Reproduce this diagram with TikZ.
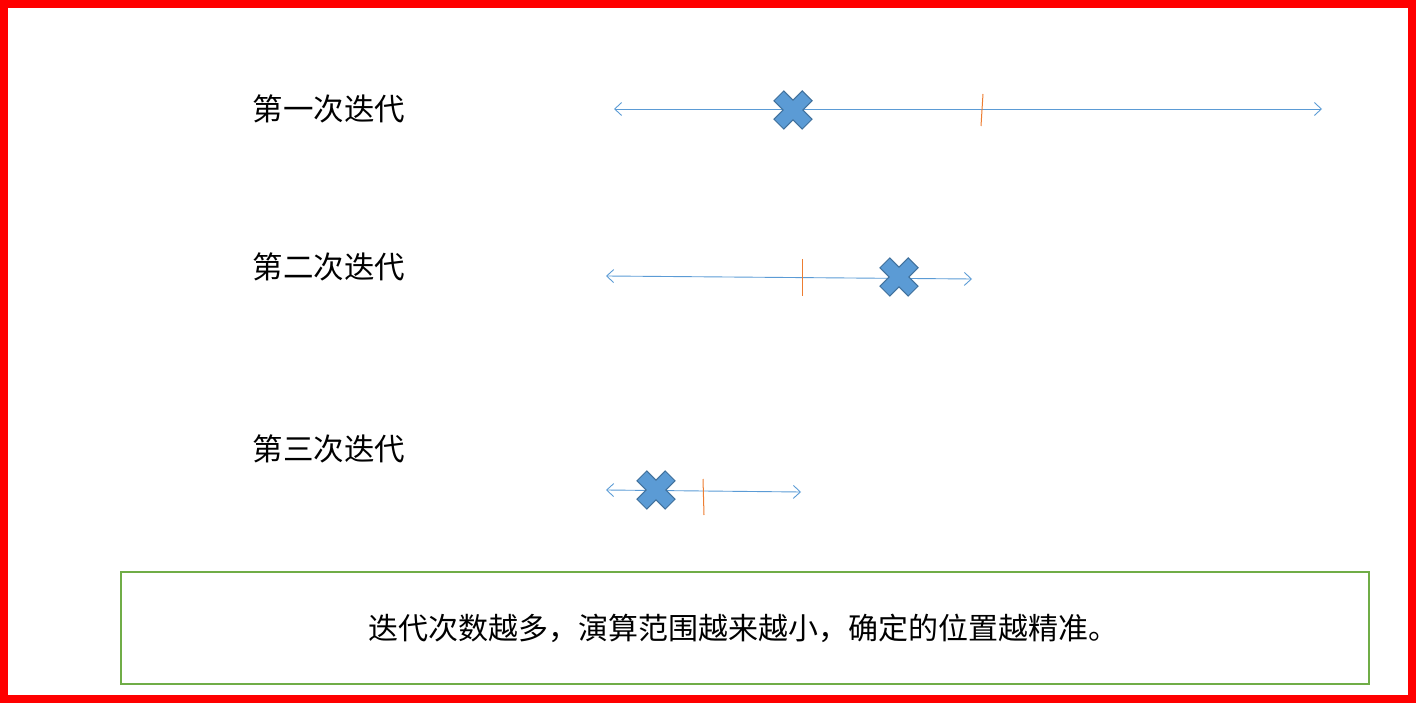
\documentclass[tikz,border=0pt]{standalone}
\usepackage{fontspec}
\newfontfamily\cjk{Noto Sans CJK SC}
\usetikzlibrary{arrows.meta}
\definecolor{lineblue}{HTML}{5B9BD5}
\definecolor{crossedge}{HTML}{41719C}
\definecolor{tickorange}{HTML}{ED7D31}
\definecolor{boxgreen}{HTML}{70AD47}
\tikzset{
  axisline/.style={draw=lineblue, line width=0.9pt, {Straight Barb[length=7pt,width=13pt]}-{Straight Barb[length=7pt,width=13pt]}},
  ticklin/.style={draw=tickorange, line width=1pt},
  lbl/.style={font=\cjk\fontsize{30.5}{33}\selectfont, inner sep=0pt},
  pics/xmark/.style={code={
    \fill[lineblue, draw=crossedge, line width=1pt, rotate=45]
      (7,20) -- (7,7) -- (20,7) -- (20,-7) -- (7,-7) -- (7,-20) -- (-7,-20) -- (-7,-7)
      -- (-20,-7) -- (-20,7) -- (-7,7) -- (-7,20) -- cycle;
  }}
}
\begin{document}
\begin{tikzpicture}[x=1pt,y=-1pt]
\useasboundingbox (0,0) rectangle (1417,703);
\draw[red, line width=8pt] (4,4) rectangle (1411.5,699);

% labels
\node[lbl] (l1) at (329,109) {第一次迭代};
\node[lbl] (l2) at (329,267) {第二次迭代};
\node[lbl] (l3) at (329,449) {第三次迭代};

% line 1
\coordinate (a1) at (614,109);
\coordinate (b1) at (1322,109);
\draw[axisline] (a1) -- (b1);
\coordinate (t1a) at (983,94);
\coordinate (t1b) at (981,126);
\draw[ticklin] (t1a) -- (t1b);
\pic at (793,110) {xmark};

% line 2
\coordinate (a2) at (606,276);
\coordinate (b2) at (972,279);
\draw[axisline] (a2) -- (b2);
\coordinate (t2a) at (802,259);
\coordinate (t2b) at (802,296);
\draw[ticklin] (t2a) -- (t2b);
\pic at (899,277) {xmark};

% line 3
\coordinate (a3) at (606,490);
\coordinate (b3) at (801,492);
\draw[axisline] (a3) -- (b3);
\coordinate (t3a) at (703,479);
\coordinate (t3b) at (704,515);
\draw[ticklin] (t3a) -- (t3b);
\pic at (656,490) {xmark};

% conclusion box
\node[draw=boxgreen, line width=2pt, minimum width=1248pt, minimum height=112pt, inner sep=0pt] (box) at (744.5,627.5) {};
\node[lbl, font=\cjk\fontsize{30}{33}\selectfont] (concl) at (743,628) {迭代次数越多，演算范围越来越小，确定的位置越精准。};
\end{tikzpicture}
\end{document}
